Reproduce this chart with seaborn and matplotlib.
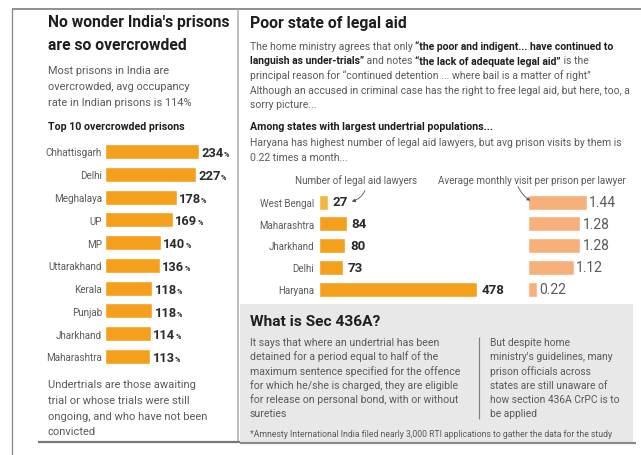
import numpy as np
import pandas as pd
import matplotlib
matplotlib.use("Agg")
import matplotlib.pyplot as plt
import seaborn as sns
from matplotlib import font_manager
from matplotlib.patches import Rectangle, FancyArrowPatch
from matplotlib.lines import Line2D

# ---------------- data ----------------
prison_states = ["Chhattisgarh", "Delhi", "Meghalaya", "UP", "MP", "Uttarakhand",
                 "Kerala", "Punjab", "Jharkhand", "Maharashtra"]
occupancy = [234, 227, 178, 169, 140, 136, 118, 118, 114, 113]

aid_states = ["West Bengal", "Maharashtra", "Jharkhand", "Delhi", "Haryana"]
lawyers = [27, 84, 80, 73, 478]
visits = [1.44, 1.28, 1.28, 1.12, 0.22]

# ---------------- style ----------------
W, H = 641, 456
ORANGE = "#f5a01c"
ORANGE_LIGHT = "#f3b640"
PEACH = "#f7b07a"
DARK = "#1e1e1e"
GRAY = "#5a5a5a"

sns.set_theme(style="white")
names = {f.name for f in font_manager.fontManager.ttflist}
FONT = "Liberation Sans Narrow" if "Liberation Sans Narrow" in names else "Roboto"
plt.rcParams["font.family"] = [FONT, "DejaVu Sans"]

fig = plt.figure(figsize=(W / 100, H / 100), dpi=100)
fig.patch.set_facecolor("white")
renderer = fig.canvas.get_renderer()


def fx(x):
    return x / W


def fy(y):
    return 1 - y / H


def px_axes(x0, y0, x1, y1):
    return fig.add_axes([fx(x0), fy(y1), (x1 - x0) / W, (y1 - y0) / H])


def text_w(s, size, weight="normal"):
    t = fig.text(0, 0, "|" + s + "|", fontsize=size, fontweight=weight)
    w = t.get_window_extent(renderer).width
    t.remove()
    t = fig.text(0, 0, "||", fontsize=size, fontweight=weight)
    w2 = t.get_window_extent(renderer).width
    t.remove()
    return w - w2


def fit_size(s, width, weight="normal", base=10.0):
    return base * width / text_w(s, base, weight)


def put(x, y, s, size, weight="normal", color=GRAY, ha="left", **kw):
    return fig.text(fx(x), fy(y), s, fontsize=size, fontweight=weight,
                    color=color, ha=ha, va="center", **kw)


def block(x, ys, lines, widths, weight="normal", color=GRAY):
    sizes = [fit_size(l, w, weight) for l, w in zip(lines, widths)]
    s = float(np.median(sizes))
    for l, y in zip(lines, ys):
        put(x, y, l, s, weight, color)
    return s


def runs_line(x, y, runs, size):
    cx = x
    for s, wt, c in runs:
        put(cx, y, s, size, wt, c)
        cx += text_w(s, size, wt)


def hline(x0, x1, y, color, lw):
    fig.add_artist(Line2D([fx(x0), fx(x1)], [fy(y), fy(y)], transform=fig.transFigure,
                          color=color, lw=lw * 0.72, solid_capstyle="butt"))


def vline(x, y0, y1, color, lw):
    fig.add_artist(Line2D([fx(x), fx(x)], [fy(y0), fy(y1)], transform=fig.transFigure,
                          color=color, lw=lw * 0.72, solid_capstyle="butt"))


# ---------------- frame / backgrounds ----------------
fig.add_artist(Rectangle((fx(240), fy(443)), (633 - 240) / W, (443 - 305) / H,
                         transform=fig.transFigure, facecolor="#e8e8e8",
                         edgecolor="none", zorder=0))
hline(12, 641, 10, "#777777", 1.6)
vline(12, 10, 456, "#8a8a8a", 1.3)
vline(238, 10, 443, "#b0b0b0", 1.6)
hline(38, 240, 443, "#777777", 2.2)
hline(240, 636, 444, "#8a8a8a", 2.2)
vline(479, 338, 420, "#808080", 1.2)

# ---------------- left panel text ----------------
block(48, [22, 46], ["No wonder India's prisons", "are so overcrowded"], [184, 137],
      "bold", DARK)
block(48, [71, 87, 103], ["Most prisons in India are", "overcrowded, avg occupancy",
                          "rate in Indian prisons is 114%"], [119, 143, 143])
block(48, [127], ["Top 10 overcrowded prisons"], [137], "bold", DARK)
block(48, [385, 401, 417, 432],
      ["Undertrials are those awaiting", "trial or whose trials were still",
       "ongoing, and who have not been", "convicted"], [148, 143, 158, 48])


def style_axes(ax, label_size, pad_px, show_labels=True):
    ax.set_facecolor("none")
    for sp in ax.spines.values():
        sp.set_visible(False)
    ax.set_xticks([])
    ax.set_xlabel("")
    ax.set_ylabel("")
    ax.tick_params(axis="y", length=0, pad=pad_px * 0.72, labelsize=label_size,
                   labelcolor=GRAY, labelleft=show_labels)


# ---------------- left bar chart ----------------
step1 = (357.5 - 152.5) / 9
ax1 = px_axes(105, 152.5 - step1 / 2, 236, 357.5 + step1 / 2)
df1 = pd.DataFrame({"state": prison_states, "occ": occupancy})
sns.barplot(data=df1, x="occ", y="state", orient="h", color=ORANGE, saturation=1,
            width=15 / step1, ax=ax1)
ax1.set_xlim(0, 131 / 0.402)
ax1.set_ylim(len(prison_states) - 0.5, -0.5)
style_axes(ax1, fit_size("Chhattisgarh", 56), 3)

vs = fit_size("234", 22, "bold")
pct = vs * 0.55
for i, v in enumerate(occupancy):
    num = str(v)
    off_y = -0.36 * vs
    ax1.annotate(num, xy=(v, i), xytext=(1.5, off_y), textcoords="offset points",
                 va="baseline", ha="left", fontsize=vs, fontweight="bold", color="#2a2a2a")
    wpt = (text_w(num, vs, "bold") + 0.3) * 0.72
    ax1.annotate("%", xy=(v, i), xytext=(1.5 + wpt, off_y), textcoords="offset points",
                 va="baseline", ha="left", fontsize=pct, fontweight="bold", color="#2a2a2a")

# ---------------- right panel text ----------------
put(250, 24, "Poor state of legal aid", fit_size("Poor state of legal aid", 157, "bold"),
    "bold", DARK)
ps = float(np.median([
    fit_size("principal reason for \u201ccontinued detention ... where bail is a matter of right\u201d", 360),
    fit_size("Although an accused in criminal case has the right to free legal aid, but here, too, a", 360),
]))
runs_line(250, 47, [("The home ministry agrees that only ", "normal", GRAY),
                    ("\u201cthe poor and indigent... have continued to", "bold", DARK)], ps)
runs_line(250, 61.5, [("languish as under-trials\u201d", "bold", DARK),
                      (" and notes ", "normal", GRAY),
                      ("\u201cthe lack of adequate legal aid\u201d", "bold", DARK),
                      (" is the", "normal", GRAY)], ps)
put(250, 76, "principal reason for \u201ccontinued detention ... where bail is a matter of right\u201d", ps)
put(250, 90.5, "Although an accused in criminal case has the right to free legal aid, but here, too, a", ps)
put(250, 105, "sorry picture...", ps)

block(250, [127], ["Among states with largest undertrial populations..."], [243], "bold", DARK)
put(250, 143, "Haryana has highest number of legal aid lawyers, but avg prison visits by them is", ps)
put(250, 158, "0.22 times a month...", ps)

hs = fit_size("Average monthly visit per prison per lawyer", 189)
put(295, 181, "Number of legal aid lawyers", hs)
put(438, 181, "Average monthly visit per prison per lawyer", hs)

# ---------------- lawyers chart ----------------
step2 = (290 - 203) / 4
ax2 = px_axes(319, 203 - step2 / 2, 500, 290 + step2 / 2)
df2 = pd.DataFrame({"state": aid_states, "lawyers": lawyers})
bar_cols = [ORANGE_LIGHT] + [ORANGE] * (len(aid_states) - 1)
sns.barplot(data=df2, x="lawyers", y="state", hue="state", palette=bar_cols, legend=False,
            orient="h", saturation=1, width=15 / step2, ax=ax2)
ax2.set_xlim(0, 181 / 0.33)
ax2.set_ylim(len(aid_states) - 0.5, -0.5)
style_axes(ax2, fit_size("West Bengal", 54), 5)
ls = fit_size("478", 23, "bold")
for i, v in enumerate(lawyers):
    ax2.annotate(str(v), xy=(v, i), xytext=(3.5, 0), textcoords="offset points",
                 va="center", ha="left", fontsize=ls, fontweight="bold", color="#2a2a2a")

# ---------------- visits chart ----------------
ax3 = px_axes(528, 203 - step2 / 2, 630, 290 + step2 / 2)
df3 = pd.DataFrame({"state": aid_states, "visits": visits})
sns.barplot(data=df3, x="visits", y="state", orient="h", color=PEACH, saturation=1,
            width=15 / step2, ax=ax3)
ax3.set_xlim(0, 102 / 41)
ax3.set_ylim(len(aid_states) - 0.5, -0.5)
style_axes(ax3, 6, 0, show_labels=False)
vs3 = fit_size("1.44", 27)
for i, v in enumerate(visits):
    ax3.annotate(f"{v:.2f}", xy=(v, i), xytext=(1.5, 0), textcoords="offset points",
                 va="center", ha="left", fontsize=vs3, color=GRAY)

# annotation pointers
for a, b, rad in [((366, 189), (349, 203), -0.3), ((517, 185), (533, 203), 0.2)]:
    fig.add_artist(FancyArrowPatch((fx(a[0]), fy(a[1])), (fx(b[0]), fy(b[1])),
                                   transform=fig.transFigure,
                                   connectionstyle=f"arc3,rad={rad}",
                                   arrowstyle="-|>", mutation_scale=5,
                                   lw=0.6, color="#555555", zorder=5))

# ---------------- Sec 436A box ----------------
put(250, 322, "What is Sec 436A?", fit_size("What is Sec 436A?", 130, "bold"), "bold", DARK)
ys_box = [343, 357, 372, 386, 400, 414]
block(250, ys_box,
      ["It says that where an undertrial has been",
       "detained for a period equal to half of the",
       "maximum sentence specified for the offence",
       "for which he/she is charged, they are eligible",
       "for release on personal bond, with or without",
       "sureties"], [190, 187, 208, 208, 210, 35])
block(490, ys_box,
      ["But despite home",
       "ministry's guidelines, many",
       "prison officials across",
       "states are still unaware of",
       "how section 436A CrPC is to",
       "be applied"], [80, 127, 95, 125, 128, 47])
foot = "*Amnesty International India filed nearly 3,000 RTI applications to gather the data for the study"
put(250, 435, foot, fit_size(foot, 363))

fig.savefig("out.png", dpi=100, facecolor="white")
